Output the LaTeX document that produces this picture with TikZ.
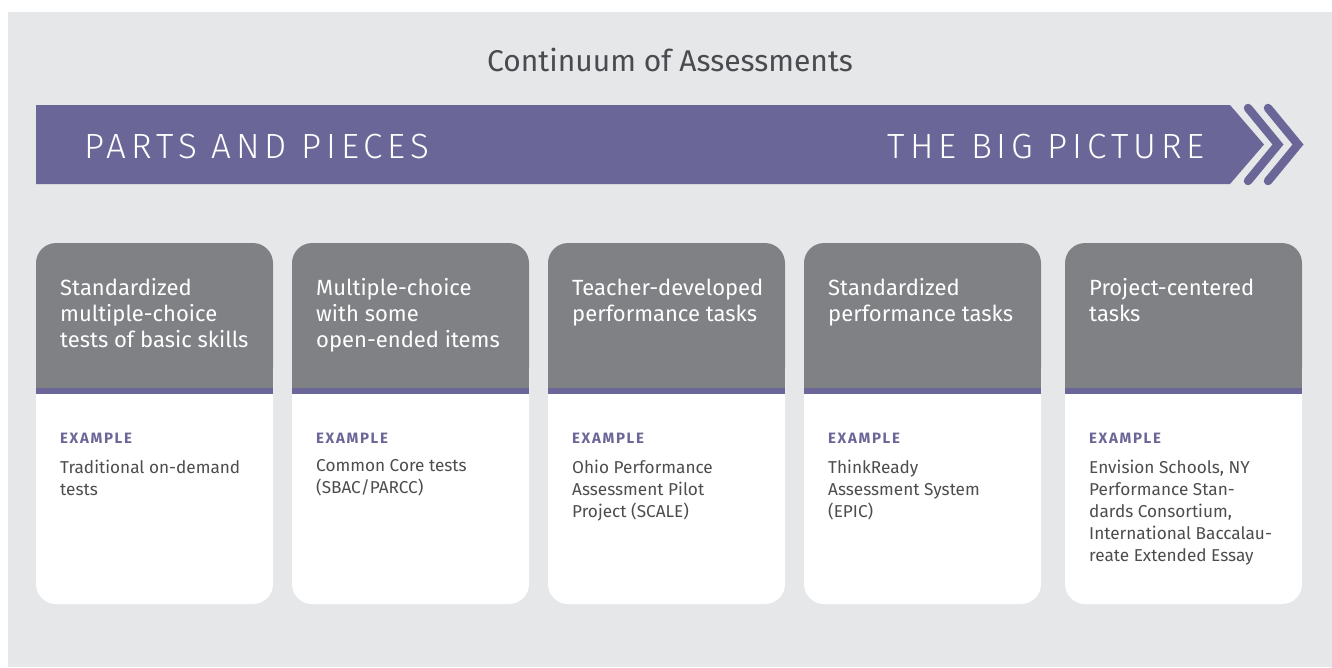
\documentclass[tikz,border=0pt]{standalone}
\usepackage{fontspec}
\setmainfont{Fira Sans}
\newfontfamily\bandfont{Fira Sans Light}[LetterSpace=14]
\newfontfamily\labelfont{Fira Sans}[LetterSpace=11]
\definecolor{bandc}{HTML}{6B6698}
\definecolor{headc}{HTML}{808184}
\definecolor{bgc}{HTML}{E6E7E9}
\definecolor{titlec}{HTML}{4A4B4F}
\definecolor{bodyc}{HTML}{4D4D4F}
\tikzset{
  cardbody/.style={fill=white, rounded corners=20pt},
  cardhead/.style={fill=headc, rounded corners=20pt},
  headtext/.style={anchor=north west, inner sep=0pt, text=white, align=left,
    font=\fontsize{22}{26}\selectfont, execute at begin node=\strut},
  examplelabel/.style={anchor=base west, inner sep=0pt, text=bandc,
    font=\labelfont\bfseries\fontsize{15}{18}\selectfont},
  bodytext/.style={anchor=north west, inner sep=0pt, text=bodyc, align=left,
    font=\fontsize{17.2}{22}\selectfont, execute at begin node=\strut},
  chevron/.style={draw=bandc, line width=8.5pt, line cap=round, line join=miter},
}
\newcommand\assesscard[4]{%
  \fill[cardbody] (#2,243) rectangle ++(237,361);
  \fill[cardhead] (#2,243) rectangle ++(237,145);
  \fill[headc] (#2,300) rectangle ++(237,88);
  \fill[bandc] (#2,388) rectangle ++(237,6);
  \node[headtext] (#1h) at (#2+24,278.6) {#3};
  \node[examplelabel] (#1e) at (#2+24,443.5) {EXAMPLE};
  \node[bodytext] (#1b) at (#2+24,459.4) {#4};
}
\begin{document}
\begin{tikzpicture}[x=1pt,y=-1pt]
\useasboundingbox (0,0) rectangle (1332,667);
\fill[bgc] (8,12) rectangle (1332,667);
\node[text=titlec, font=\fontsize{30}{35}\selectfont, anchor=base] (title) at (670,71) {Continuum of Assessments};
\fill[bandc] (36,105) -- (1230,105) -- (1264,144.5) -- (1230,184) -- (36,184) -- cycle;
\coordinate (c1a) at (1248,108); \coordinate (c1b) at (1278,144.5); \coordinate (c1c) at (1248,181);
\coordinate (c2a) at (1268,108); \coordinate (c2b) at (1298,144.5); \coordinate (c2c) at (1268,181);
\draw[chevron] (c1a) -- (c1b) -- (c1c);
\draw[chevron] (c2a) -- (c2b) -- (c2c);
\node[text=white, font=\bandfont\fontsize{35}{40}\selectfont, anchor=base west, inner sep=0pt] (parts) at (84,158) {PARTS AND PIECES};
\node[text=white, font=\bandfont\fontsize{35}{40}\selectfont, anchor=base east, inner sep=0pt] (big) at (1205,158) {THE BIG PICTURE};
\assesscard{a}{36}{Standardized\\multiple-choice\\tests of basic skills}{Traditional on-demand\\tests}
\assesscard{b}{292}{Multiple-choice\\with some\\open-ended items}{Common Core tests\\(SBAC/PARCC)}
\assesscard{c}{548}{Teacher-developed\\performance tasks}{Ohio Performance\\Assessment Pilot\\Project (SCALE)}
\assesscard{d}{804}{Standardized\\performance tasks}{ThinkReady\\Assessment System\\(EPIC)}
\assesscard{e}{1065}{Project-centered\\tasks}{Envision Schools, NY\\Performance Stan-\\dards Consortium,\\International Baccalau-\\reate Extended Essay}
\end{tikzpicture}
\end{document}
